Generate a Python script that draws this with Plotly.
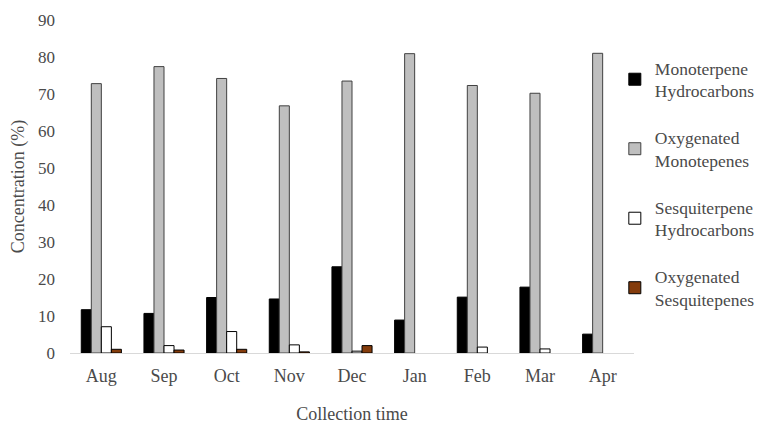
import plotly.graph_objects as go

months = ["Aug", "Sep", "Oct", "Nov", "Dec", "Jan", "Feb", "Mar", "Apr"]
mono_hc = [11.7, 10.7, 15.0, 14.6, 23.3, 8.9, 15.1, 17.8, 5.1]
oxy_mono = [72.8, 77.4, 74.2, 66.8, 73.5, 80.9, 72.3, 70.2, 81.0]
sesq_hc = [7.1, 2.0, 5.8, 2.2, 0.5, 0.0, 1.6, 1.1, 0.0]
oxy_sesq = [1.0, 0.8, 1.0, 0.3, 2.0, 0.0, 0.0, 0.0, 0.0]

series = [
    ("Monoterpene<br>Hydrocarbons", mono_hc, "#000000", "#000000"),
    ("Oxygenated<br>Monotepenes", oxy_mono, "#bfbfbf", "#404040"),
    ("Sesquiterpene<br>Hydrocarbons", sesq_hc, "#ffffff", "#000000"),
    ("Oxygenated<br>Sesquitepenes", oxy_sesq, "#843c0c", "#000000"),
]

font_family = "Liberation Serif, DejaVu Serif, serif"
text_color = "#4a4a4a"

fig = go.Figure()
for i, (name, vals, fill, line) in enumerate(series):
    widths = [1 if v > 0 else 0 for v in vals]
    fig.add_trace(go.Bar(
        x=months, y=vals, name=name, legendgroup=str(i),
        marker=dict(color=fill, line=dict(color=line, width=widths)),
    ))

fig.update_layout(
    width=759, height=425,
    margin=dict(l=70, r=125, t=20, b=72, autoexpand=False),
    paper_bgcolor="white", plot_bgcolor="white",
    barmode="group", bargap=0.36, bargroupgap=0,
    font=dict(family=font_family, size=18, color=text_color),
    legend=dict(x=0.966, xanchor="left", y=0.91, yanchor="top",
                tracegroupgap=21, font=dict(family=font_family, size=17.5, color=text_color),
                itemwidth=30),
    showlegend=True,
)
fig.update_xaxes(showgrid=False, showline=True, linecolor="#d9d9d9", linewidth=1,
                 ticks="", tickfont=dict(size=18), ticklabelstandoff=6, automargin=True,
                 title=dict(text="Collection time", standoff=22, font=dict(size=18)))
fig.update_yaxes(range=[0, 90], dtick=10, showgrid=False, showline=False, zeroline=False,
                 ticks="", tickfont=dict(size=17), ticklabelstandoff=14, automargin=False,
                 title=dict(text="Concentration (%)", standoff=8, font=dict(size=18)))

fig.write_html("out.html", config={"displayModeBar": False},
               post_script="document.body.style.margin='0px';")
